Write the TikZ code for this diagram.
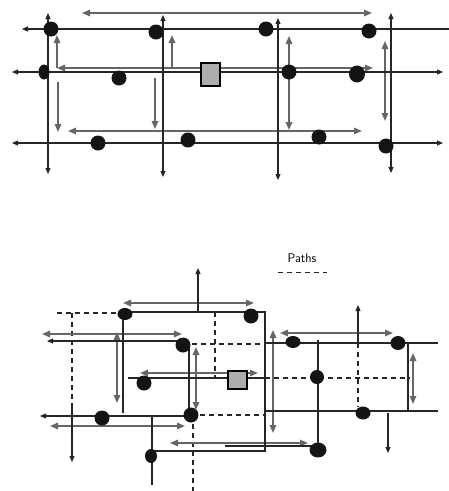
\documentclass[tikz,border=0pt]{standalone}
\usetikzlibrary{arrows.meta,shapes.geometric}
\begin{document}
\begin{tikzpicture}[x=1pt,y=-1pt,
  kt/.tip={Triangle[length=6pt,width=5pt]},
  gt/.tip={Triangle[length=8pt,width=6.5pt]},
  blk/.style={draw=black!85, line width=1.1pt},
  gry/.style={draw=black!60, line width=1.5pt},
  dsh/.style={draw=black!85, line width=1.1pt, dash pattern=on 5pt off 4pt},
  dot/.style={ellipse, fill=black!92, draw=none, inner sep=0pt, minimum width=15pt, minimum height=15pt},
  box/.style={rectangle, fill=black!32, draw=black, line width=2pt, inner sep=0pt}]
\useasboundingbox (0,0) rectangle (449,491);

% ================= TOP DIAGRAM =================
% gray arrows
\draw[gry,gt-gt] (82,13) -- (372,13);
\draw[gry,gt-gt] (57,68) -- (373,68);
\draw[gry,gt-gt] (68,131) -- (362,131);
\draw[gry,-gt] (57,68) -- (57,35);
\draw[gry,-gt] (58,82) -- (58,132);
\draw[gry,-gt] (155,78) -- (155,129);
\draw[gry,-gt] (172,68) -- (172,35);
\draw[gry,gt-gt] (289,36) -- (289,130);
\draw[gry,gt-gt] (385,41) -- (385,121);
% black lines
\draw[blk,-kt] (449,29) -- (22,29);
\draw[blk,kt-kt] (12,72) -- (443,72);
\draw[blk,kt-kt] (12,143) -- (443,143);
\draw[blk,kt-kt] (48,13) -- (48,174);
\draw[blk,kt-kt] (163,15) -- (163,177);
\draw[blk,kt-kt] (278,18) -- (278,180);
\draw[blk,kt-kt] (391,13) -- (391,173);
% dots
\node[dot] (ta1) at (51,29) {};
\node[dot] (ta2) at (156,32) {};
\node[dot] (ta3) at (266,29) {};
\node[dot] (ta4) at (369,31) {};
\node[dot,minimum width=11pt] (tb1) at (44,72) {};
\node[dot] (tb2) at (119,78) {};
\node[dot] (tb3) at (289,72) {};
\node[dot,minimum width=16pt,minimum height=17pt] (tb4) at (357,74) {};
\node[dot] (tc1) at (98,143) {};
\node[dot] (tc2) at (188,140) {};
\node[dot] (tc3) at (319,137) {};
\node[dot] (tc4) at (386,146) {};
\node[box,minimum width=19pt,minimum height=23pt] (tbox) at (210.5,74.5) {};

% ================= BOTTOM DIAGRAM =================
\node[font=\fontsize{12.5}{14}\selectfont\sffamily] (lbl) at (302,258) {Paths};
\draw[dsh,line width=0.9pt] (278,272) -- (327,272);

% dashed paths
\draw[dsh] (57,313) -- (125,313);
\draw[dsh] (72,313) -- (72,403);
\draw[dsh] (215,312) -- (215,377);
\draw[dsh] (183,344) -- (265,344);
\draw[dsh] (265,378) -- (410,378);
\draw[dsh] (191,415) -- (265,415);
\draw[dsh] (193,415) -- (193,491);
\draw[dsh] (358,343) -- (358,407);

% gray arrows
\draw[gry,gt-gt] (123,303) -- (254,303);
\draw[gry,gt-gt] (42,334) -- (182,334);
\draw[gry,gt-gt] (117,332) -- (117,403);
\draw[gry,gt-gt] (196,347) -- (196,410);
\draw[gry,gt-gt] (140,373) -- (258,373);
\draw[gry,gt-gt] (50,426) -- (185,426);
\draw[gry,gt-gt] (170,443) -- (308,443);
\draw[gry,gt-gt] (273,330) -- (273,433);
\draw[gry,gt-gt] (280,333) -- (393,333);
\draw[gry,gt-gt] (413,353) -- (413,404);

% black lines
\draw[blk] (125,312) -- (265,312) -- (265,451) -- (152,451);
\draw[blk,-kt] (198,312) -- (198,268);
\draw[blk,-kt] (183,341) -- (47,341);
\draw[blk] (123,314) -- (123,413);
\draw[blk,-kt] (72,403) -- (72,462);
\draw[blk] (128,378) -- (228,378);
\draw[blk] (247,378) -- (265,378);
\draw[blk] (189,345) -- (189,415);
\draw[blk,-kt] (191,416) -- (40,416);
\draw[blk] (152,417) -- (152,485);
\draw[blk] (225,446) -- (318,446);
\draw[blk] (265,343) -- (438,343);
\draw[blk] (265,411) -- (438,411);
\draw[blk] (318,340) -- (318,450);
\draw[blk,-kt] (358,343) -- (358,305);
\draw[blk] (408,343) -- (408,411);
\draw[blk,-kt] (388,413) -- (388,453);

% dots
\node[dot,minimum height=12pt] (b1) at (125,314) {};
\node[dot] (b2) at (251,316) {};
\node[dot] (b3) at (183,345) {};
\node[dot] (b4) at (144,383) {};
\node[dot] (b5) at (191,415) {};
\node[dot] (b6) at (102,418) {};
\node[dot,minimum width=12pt,minimum height=14pt] (b7) at (151,456) {};
\node[dot,minimum height=12pt] (b8) at (293,342) {};
\node[dot,minimum height=14pt] (b9) at (398,343) {};
\node[dot,minimum width=14pt,minimum height=14pt] (b10) at (317,377) {};
\node[dot,minimum height=13pt] (b11) at (363,413) {};
\node[dot,minimum width=17pt] (b12) at (318,450) {};
\node[box,minimum width=19pt,minimum height=18pt] (bbox) at (237.5,380) {};
\end{tikzpicture}
\end{document}
